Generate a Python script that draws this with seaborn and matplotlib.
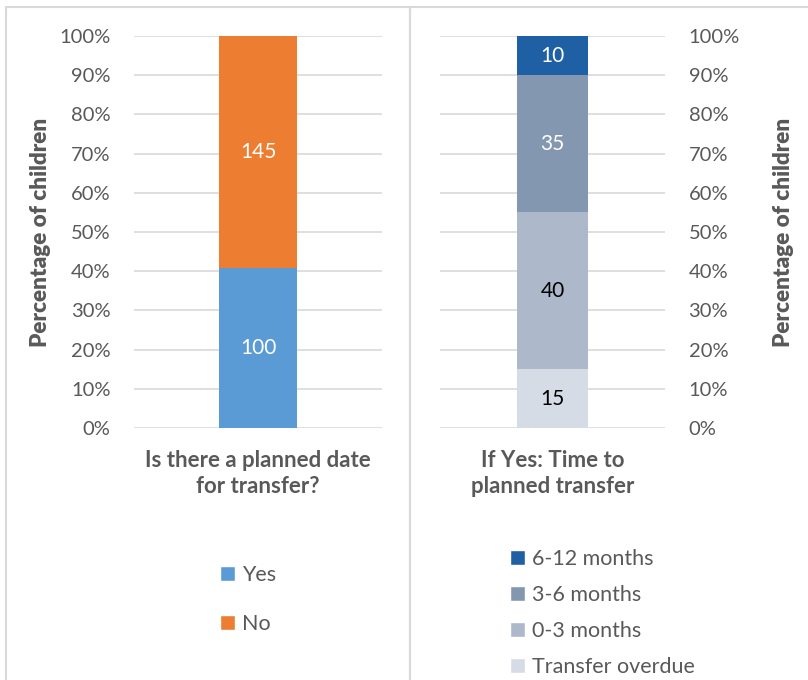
import matplotlib
matplotlib.use('Agg')
import matplotlib.pyplot as plt
from matplotlib.patches import Patch, Rectangle
import pandas as pd
import seaborn as sns

# Left panel: planned date for transfer (counts)
plan_labels = ['Yes', 'No']
plan_counts = [100, 145]
plan_colors = ['#5B9BD5', '#ED7D31']
plan_text = ['white', 'white']

# Right panel: time to planned transfer (counts, bottom to top)
time_labels = ['Transfer overdue', '0-3 months', '3-6 months', '6-12 months']
time_counts = [15, 40, 35, 10]
time_colors = ['#D6DCE5', '#ADB9CA', '#8497B0', '#1F5FA3']
time_text = ['black', 'black', 'white', 'white']

left_title = 'Is there a planned date\nfor transfer?'
right_title = 'If Yes: Time to\nplanned transfer'
y_label = 'Percentage of children'
yticks = [0, 10, 20, 30, 40, 50, 60, 70, 80, 90, 100]

GREY = '#595959'
GRID = '#D9D9D9'

sns.set_style('white')
plt.rcParams['font.family'] = ['Lato', 'DejaVu Sans']


def stacked(ax, cat, labels, counts, colors, txt_colors):
    df = pd.DataFrame({'label': labels, 'count': counts})
    df['pct'] = df['count'] / df['count'].sum() * 100
    df['bottom'] = df['pct'].cumsum() - df['pct']
    df['cat'] = cat
    for i, row in df.iterrows():
        sns.barplot(data=df.iloc[[i]], x='cat', y='pct', bottom=row['bottom'],
                    color=colors[i], width=0.315, saturation=1, ax=ax,
                    linewidth=0, zorder=3)
        ax.text(0, row['bottom'] + row['pct'] / 2, str(row['count']),
                ha='center', va='center', fontsize=15, color=txt_colors[i],
                zorder=4)
    ax.set_xlim(-0.5, 0.5)
    ax.set_ylim(0, 100)
    ax.set_yticks(yticks)
    ax.set_yticklabels([f'{t}%' for t in yticks])
    ax.grid(axis='y', color=GRID, linewidth=1.2, zorder=0)
    ax.set_axisbelow(True)
    for s in ax.spines.values():
        s.set_visible(False)
    ax.tick_params(axis='both', length=0, labelsize=14.5, colors=GREY, pad=17)
    ax.set_xticks([0])
    ax.set_xticklabels([cat], fontsize=16, fontweight='bold', color=GREY,
                       linespacing=1.3)
    ax.tick_params(axis='x', pad=16)
    ax.set_xlabel('')
    ax.set_ylabel(y_label, fontsize=16.2, fontweight='heavy', color=GREY)


fig = plt.figure(figsize=(8.08, 6.8), dpi=100)
ax1 = fig.add_axes([134 / 808, 1 - 428 / 680, 248 / 808, 392 / 680])
ax2 = fig.add_axes([440 / 808, 1 - 428 / 680, 225 / 808, 392 / 680])

stacked(ax1, left_title, plan_labels, plan_counts, plan_colors, plan_text)
stacked(ax2, right_title, time_labels, time_counts, time_colors, time_text)
ax1.yaxis.set_label_coords(-0.335, 0.5)
ax2.yaxis.tick_right()
ax2.yaxis.set_label_position('right')
ax2.yaxis.set_label_coords(1.48, 0.5)

# panel borders
fig.add_artist(Rectangle((6 / 808, -0.01), 404 / 808, 1 - 7 / 680 + 0.01,
                         transform=fig.transFigure, fill=False,
                         edgecolor=GRID, linewidth=1.5))
fig.add_artist(Rectangle((410 / 808, -0.01), 420 / 808, 1 - 7 / 680 + 0.01,
                         transform=fig.transFigure, fill=False,
                         edgecolor=GRID, linewidth=1.5))

# legends
h1 = [Patch(facecolor=c, label=l) for l, c in zip(plan_labels, plan_colors)]
leg1 = fig.legend(handles=h1, loc='upper left',
                  bbox_to_anchor=(220 / 808, 1 - 565 / 680), frameon=False,
                  fontsize=15.5, handlelength=0.7, handleheight=0.7,
                  handletextpad=0.3, labelspacing=1.35, borderpad=0,
                  borderaxespad=0)
for t in leg1.get_texts():
    t.set_color(GREY)

h2 = [Patch(facecolor=c, label=l)
      for l, c in zip(time_labels[::-1], time_colors[::-1])]
leg2 = fig.legend(handles=h2, loc='upper left',
                  bbox_to_anchor=(510 / 808, 1 - 549 / 680), frameon=False,
                  fontsize=15.5, handlelength=0.7, handleheight=0.7,
                  handletextpad=0.3, labelspacing=0.75, borderpad=0,
                  borderaxespad=0)
for t in leg2.get_texts():
    t.set_color(GREY)

fig.savefig('out.png', dpi=100)
